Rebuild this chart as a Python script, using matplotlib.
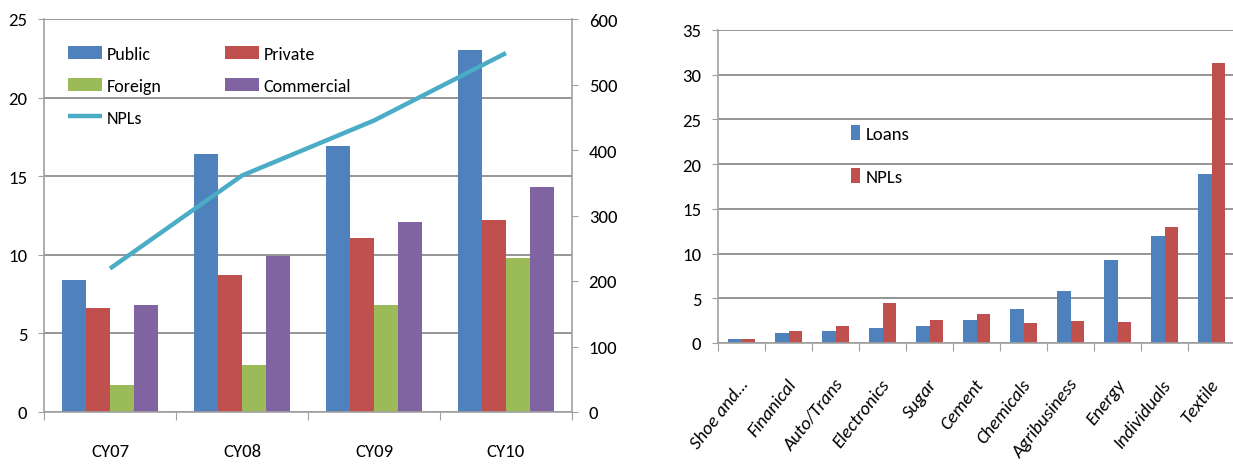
import matplotlib.pyplot as plt
import numpy as np
from matplotlib.transforms import ScaledTranslation

plt.rcParams['font.family'] = ['Carlito', 'Lato', 'DejaVu Sans']

# left chart data
years = ["CY07", "CY08", "CY09", "CY10"]
public = [8.4, 16.4, 16.9, 23.0]
private = [6.6, 8.7, 11.1, 12.2]
foreign = [1.7, 3.0, 6.8, 9.8]
commercial = [6.8, 9.9, 12.1, 14.3]
npls_total = [219, 361, 445, 548]

# right chart data
sectors = ["Shoe and…", "Finanical", "Auto/Trans", "Electronics", "Sugar", "Cement",
           "Chemicals", "Agribusiness", "Energy", "Individuals", "Textile"]
loans_share = [0.5, 1.1, 1.3, 1.7, 1.9, 2.6, 3.8, 5.8, 9.3, 12.0, 18.9]
npls_share = [0.5, 1.3, 1.9, 4.5, 2.6, 3.2, 2.2, 2.5, 2.3, 13.0, 31.3]

BLUE = "#4F81BD"
RED = "#C0504D"
GREEN = "#9BBB59"
PURPLE = "#8064A2"
CYAN = "#4BACC6"
GRID = "#8C8C8C"
FS = 13.5

fig = plt.figure(figsize=(12.33, 4.77), dpi=100)


def style_axis(ax):
    ax.grid(axis="y", color=GRID, linewidth=1.3)
    ax.set_axisbelow(True)
    for s in ["top", "right"]:
        ax.spines[s].set_visible(False)
    for s in ["left", "bottom"]:
        ax.spines[s].set_color("#A0A0A0")
        ax.spines[s].set_linewidth(1.2)
    ax.tick_params(axis="y", length=4, color="#A0A0A0", labelsize=FS, pad=8)
    ax.tick_params(axis="x", which="major", length=6, color="#A0A0A0", labelbottom=False)
    ax.tick_params(axis="x", which="minor", length=0, labelsize=FS)


# ---- left chart ----
ax1 = fig.add_axes([44 / 1233, 1 - 413 / 477, 528 / 1233, 393 / 477])
x = np.arange(len(years))
w = 0.18
series = [(public, BLUE, "Public"), (private, RED, "Private"),
          (foreign, GREEN, "Foreign"), (commercial, PURPLE, "Commercial")]
for i, (vals, col, lab) in enumerate(series):
    ax1.bar(x + (i - 1.5) * w, vals, w, color=col, label=lab)
ax1.set_xlim(-0.5, len(years) - 0.5)
ax1.set_ylim(0, 25)
ax1.set_yticks(range(0, 26, 5))
ax1.set_xticks(np.arange(-0.5, len(years), 1))
ax1.set_xticks(x, minor=True)
ax1.set_xticklabels(years, minor=True)
style_axis(ax1)
ax1.tick_params(axis="x", which="minor", pad=22)

ax1b = ax1.twinx()
ax1b.plot(x, npls_total, color=CYAN, linewidth=3.2, label="NPLs", solid_capstyle="butt")
ax1b.set_ylim(0, 600)
ax1b.set_yticks(range(0, 601, 100))
for s in ["top", "left", "bottom"]:
    ax1b.spines[s].set_visible(False)
ax1b.spines["right"].set_color("#A0A0A0")
ax1b.spines["right"].set_linewidth(1.2)
ax1b.tick_params(axis="y", length=4, color="#A0A0A0", labelsize=FS, pad=8)

h1, l1 = ax1.get_legend_handles_labels()
h2, l2 = ax1b.get_legend_handles_labels()
handles = [h1[0], h1[2], h2[0], h1[1], h1[3]]
labels = [l1[0], l1[2], l2[0], l1[1], l1[3]]
ax1b.legend(handles, labels, ncol=2, loc="upper left", bbox_to_anchor=(0.045, 0.932),
            frameon=False, fontsize=13, handlelength=1.9, handleheight=0.75,
            handletextpad=0.25, labelspacing=0.88, columnspacing=3.5,
            borderaxespad=0, borderpad=0)

# ---- right chart ----
ax2 = fig.add_axes([718 / 1233, 1 - 344 / 477, 515 / 1233, 313 / 477])
xs = np.arange(len(sectors))
w2 = 0.29
ax2.bar(xs - w2 / 2, loans_share, w2, color=BLUE, label="Loans")
ax2.bar(xs + w2 / 2, npls_share, w2, color=RED, label="NPLs")
ax2.set_xlim(-0.5, len(sectors) - 0.5 - 2 / 47)
ax2.set_ylim(0, 35)
ax2.set_yticks(range(0, 36, 5))
ax2.set_xticks(np.arange(-0.5, len(sectors) - 0.5, 1))
ax2.set_xticks(xs, minor=True)
ax2.set_xticklabels(sectors, minor=True, rotation=52, ha="right", va="center",
                    rotation_mode="anchor", style="italic", fontsize=15)
style_axis(ax2)
ax2.tick_params(axis="x", which="minor", pad=27)
shift = ScaledTranslation(0.04, 0, fig.dpi_scale_trans)
for lbl in ax2.get_xticklabels(minor=True):
    lbl.set_transform(lbl.get_transform() + shift)
ax2.legend(loc="upper left", bbox_to_anchor=(0.258, 0.697), frameon=False, fontsize=13.5,
           handlelength=0.5, handleheight=0.85, handletextpad=0.3, labelspacing=1.4,
           borderaxespad=0, borderpad=0)

fig.savefig("out.png", dpi=100)
